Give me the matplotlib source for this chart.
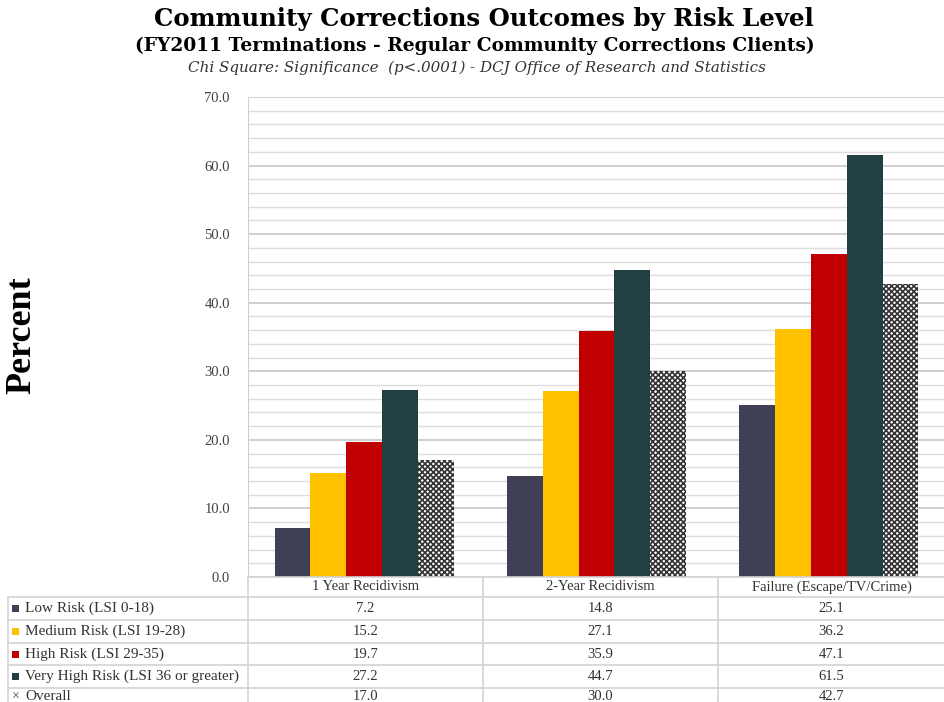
import matplotlib
matplotlib.use("Agg")
from matplotlib import pyplot as plt
from matplotlib.patches import Rectangle
import numpy as np

# data
categories = ["1 Year Recidivism", "2-Year Recidivism", "Failure (Escape/TV/Crime)"]
series_names = ["Low Risk (LSI 0-18)", "Medium Risk (LSI 19-28)", "High Risk (LSI 29-35)",
                "Very High Risk (LSI 36 or greater)", "Overall"]
low_risk = [7.2, 14.8, 25.1]
medium_risk = [15.2, 27.1, 36.2]
high_risk = [19.7, 35.9, 47.1]
very_high_risk = [27.2, 44.7, 61.5]
overall = [17.0, 30.0, 42.7]
all_series = [low_risk, medium_risk, high_risk, very_high_risk, overall]
colors = ["#3F3F55", "#FFC000", "#C00000", "#223F42", "white"]

plt.rcParams['font.family'] = ['Liberation Serif', 'DejaVu Serif']
plt.rcParams['hatch.linewidth'] = 1.2

W, H = 945, 702
fig = plt.figure(figsize=(W / 100, H / 100), dpi=100)

# pixel helpers
def fx(px): return px / W
def fy(py): return 1 - py / H

left, right, top, bottom = 248, 945, 97, 577
ax = fig.add_axes([fx(left), fy(bottom), fx(right - left), fy(top) - fy(bottom)])

x = np.arange(len(categories)) + 0.5
bw = 0.154
for i, vals in enumerate(all_series):
    off = (i - 2) * bw
    if series_names[i] == "Overall":
        ax.bar(x + off, vals, bw, color="white", edgecolor="#333333", hatch="xxxxxx",
               linewidth=0, zorder=3)
    else:
        ax.bar(x + off, vals, bw, color=colors[i], linewidth=0, zorder=3)

ax.set_xlim(0, 3)
ax.set_ylim(0, 70)
ax.set_yticks(np.arange(0, 71, 10))
ax.set_yticks(np.arange(0, 71, 2), minor=True)
ax.set_yticklabels(["%.1f" % v for v in np.arange(0, 71, 10)], fontsize=10.5, color="#404040")
ax.tick_params(axis="y", which="both", length=0, pad=13)
ax.set_xticks([])
ax.grid(axis="y", which="major", color="#D0D0D0", linewidth=1.4, zorder=0)
ax.grid(axis="y", which="minor", color="#DDDDDD", linewidth=1.0, zorder=0)
for s in ["top", "right", "bottom"]:
    ax.spines[s].set_visible(False)
ax.spines["left"].set_color("#D0D0D0")

# titles
fig.text(fx(484), fy(19), "Community Corrections Outcomes by Risk Level",
         ha="center", va="center", fontsize=17.6, fontweight="bold", family="DejaVu Serif")
fig.text(fx(475), fy(46), "(FY2011 Terminations - Regular Community Corrections Clients)",
         ha="center", va="center", fontsize=13.4, fontweight="bold", family="DejaVu Serif")
fig.text(fx(477), fy(68), "Chi Square: Significance  (p<.0001) - DCJ Office of Research and Statistics",
         ha="center", va="center", fontsize=10.9, style="italic", color="#333333",
         family="DejaVu Serif")
fig.text(fx(22), fy(335), "Percent", rotation=90, ha="center", va="center",
         fontsize=26, fontweight="bold")

# data table below the plot
tab = fig.add_axes([0, 0, 1, 1], facecolor="none")
tab.set_xlim(0, W)
tab.set_ylim(H, 0)
tab.axis("off")
lc = "#D3D3D3"
col_edges = [left, 483, 718, 945]
row_edges = [597, 620, 643, 665, 688, 712]
tab.plot([left, 945], [bottom, bottom], color=lc, lw=1.2)
for y in row_edges[:-1]:
    tab.plot([8, 945], [y, y], color=lc, lw=1.2)
for xe in col_edges[:-1]:
    tab.plot([xe, xe], [bottom, 712], color=lc, lw=1.2)
tab.plot([8, 8], [597, 712], color=lc, lw=1.2)

for j, cat in enumerate(categories):
    cx = (col_edges[j] + col_edges[j + 1]) / 2
    tab.text(cx, (bottom + 597) / 2, cat, ha="center", va="center", fontsize=10.5, color="#333333")

for i, name in enumerate(series_names):
    cy = (row_edges[i] + row_edges[i + 1]) / 2 if i < 4 else 697
    if name == "Overall":
        tab.text(15.5, cy, "\u00d7", ha="center", va="center", fontsize=10, color="#444444")
    else:
        tab.add_patch(Rectangle((12, cy - 3.5), 7, 7, facecolor=colors[i], linewidth=0))
    tab.text(25, cy, name, ha="left", va="center", fontsize=11, color="#333333")
    for j, v in enumerate(all_series[i]):
        cx = (col_edges[j] + col_edges[j + 1]) / 2
        tab.text(cx, cy, "%.1f" % v, ha="center", va="center", fontsize=10.5, color="#333333")

fig.savefig("out.png", dpi=100)
